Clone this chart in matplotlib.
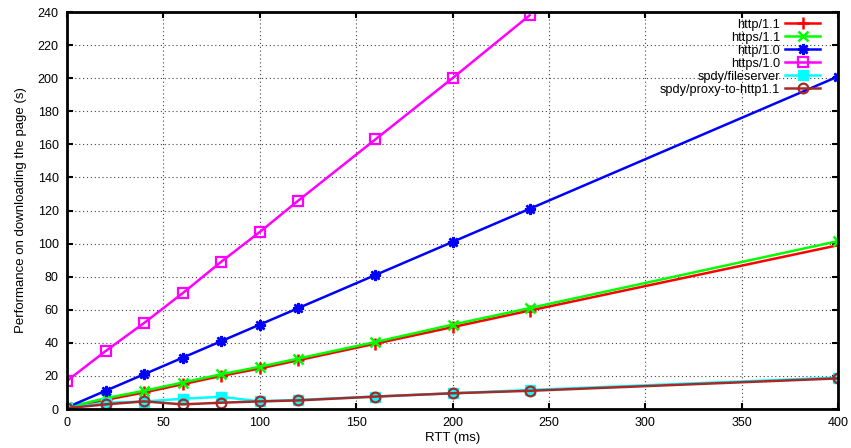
import matplotlib
matplotlib.use("Agg")
import matplotlib.pyplot as plt

plt.rcParams['font.family'] = ['Liberation Sans', 'DejaVu Sans']

rtt = [0, 20, 40, 60, 80, 100, 120, 160, 200, 240, 400]
rtt_https10 = [0, 20, 40, 60, 80, 100, 120, 160, 200, 240]

http11 = [0.5, 5.5, 10, 15, 20, 24.5, 29.5, 39.5, 49.5, 59.5, 99]
https11 = [1, 6.5, 11, 16, 21, 25.5, 30.5, 40.5, 51, 61, 101.5]
http10 = [1, 11, 21, 31, 41, 51, 61, 81, 101, 121, 201]
https10 = [17, 35, 52, 70, 89, 107, 126, 163, 200, 238]
spdy_file = [0.5, 3.8, 4.5, 6.2, 7.4, 4.6, 5.5, 7.5, 9.5, 11.5, 19]
spdy_proxy = [0.5, 2.8, 4.6, 2.8, 3.8, 4.6, 5.2, 7.5, 9.5, 11, 18.5]

fig = plt.figure(figsize=(8.51, 4.48), dpi=100)
ax = fig.add_axes([67/851, 1 - 409/448, (838-67)/851, (409-12)/448])

lw = 1.8
ax.plot(rtt, http11, color='#ff0000', lw=lw, marker='+', ms=8, mew=1.8, label='http/1.1')
ax.plot(rtt, https11, color='#00ff00', lw=lw, marker='x', ms=6.5, mew=1.8, label='https/1.1')
ax.plot(rtt, http10, color='#0000ff', lw=lw, marker=(8, 2, 0), ms=8, mew=1.8, label='http/1.0')
ax.plot(rtt_https10, https10, color='#ff00ff', lw=lw, marker='s', ms=7, mew=1.6, mfc='none', label='https/1.0')
ax.plot(rtt, spdy_file, color='#00ffff', lw=lw, marker='s', ms=6.5, mew=1.0, label='spdy/fileserver')
ax.plot(rtt, spdy_proxy, color='#a52a2a', lw=lw, marker='o', ms=7, mew=1.6, mfc='none', label='spdy/proxy-to-http1.1')

ax.set_xlim(0, 400)
ax.set_ylim(0, 240)
ax.set_xticks(range(0, 401, 50))
ax.set_yticks(range(0, 241, 20))
ax.grid(True, linestyle=(0, (1, 2.5)), color='#444444', lw=0.8)
ax.tick_params(direction='in', length=4, width=1.5, top=True, right=True, labelsize=9, pad=6)
for s in ax.spines.values():
    s.set_linewidth(2)
ax.set_xlabel('RTT (ms)', fontsize=9.5, labelpad=2)
ax.set_ylabel('Performance on downloading the page (s)', fontsize=9.5, labelpad=8)

leg = ax.legend(loc='upper right', bbox_to_anchor=(1 - 15/771, 1 - 4/397), markerfirst=False,
                frameon=False, fontsize=9.2, handlelength=2.8, labelspacing=0.08,
                borderaxespad=0.0, borderpad=0.2, handletextpad=0.35)

fig.savefig('out.png', dpi=100)
